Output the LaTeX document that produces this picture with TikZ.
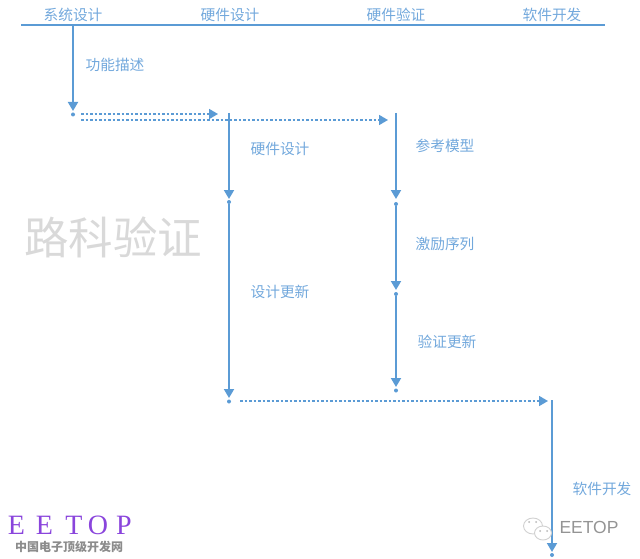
\documentclass[tikz,border=0pt]{standalone}
\usepackage{fontspec}
\setmainfont{Noto Sans CJK SC}
\newfontfamily\latinserif{Liberation Serif}
\newfontfamily\latinsans{Liberation Sans}
\usetikzlibrary{arrows.meta}
\definecolor{linec}{HTML}{5B9BD5}
\definecolor{labelc}{HTML}{72A8DC}
\definecolor{logoc}{HTML}{8A45DC}
\tikzset{
  x=1pt,y=-1pt,
  lab/.style={inner sep=0pt,text=labelc,font=\fontsize{14.7}{14.7}\selectfont},
  sol/.style={draw=linec,line width=1.9pt,-{Triangle[length=9pt,width=10pt]}},
  dsh/.style={draw=linec,line width=1.7pt,dash pattern=on 2.7pt off 1.8pt,-{Triangle[length=9pt,width=10pt]}},
  enddot/.style={circle,fill=linec,inner sep=0pt,minimum size=4pt},
}
\begin{document}
\begin{tikzpicture}
\useasboundingbox (0,0) rectangle (640,559);
% header
\coordinate (hl) at (21,25);
\coordinate (hr) at (605,25);
\draw[linec,line width=1.9pt] (hl) -- (hr);
\node[lab] (h1) at (73,15) {系统设计};
\node[lab] (h2) at (230,15) {硬件设计};
\node[lab] (h3) at (396,15) {硬件验证};
\node[lab] (h4) at (552,15) {软件开发};
% column 1
\coordinate (a0) at (73,25);
\node[enddot] (a1) at (73,114.5) {};
\draw[sol] (a0) -- (73,111) coordinate (a1t);
\node[lab] (l1) at (115,65) {功能描述};
% dashed from first stage
\coordinate (d1s) at (81,114);
\coordinate (d1e) at (218,114);
\draw[dsh] (d1s) -- (d1e);
\coordinate (d2s) at (81,120);
\coordinate (d2e) at (388,120);
\draw[dsh] (d2s) -- (d2e);
% column 2
\coordinate (b0) at (229,113);
\node[enddot] (b1) at (229,202) {};
\node[enddot] (b2) at (229,401.5) {};
\draw[sol] (b0) -- (229,199);
\draw[sol] (b1) -- (229,398);
\node[lab] (l2) at (280,149) {硬件设计};
\node[lab] (l3) at (280,292) {设计更新};
% column 3
\coordinate (c0) at (396,113);
\node[enddot] (c1) at (396,204) {};
\node[enddot] (c2) at (396,294) {};
\node[enddot] (c3) at (396,390.5) {};
\draw[sol] (c0) -- (396,199);
\draw[sol] (c1) -- (396,290);
\draw[sol] (c2) -- (396,387);
\node[lab] (l4) at (445,146) {参考模型};
\node[lab] (l5) at (445,244) {激励序列};
\node[lab] (l6) at (447,342) {验证更新};
% to software
\coordinate (d3s) at (240,401);
\coordinate (d3e) at (548,401);
\draw[dsh] (d3s) -- (d3e);
% column 4
\coordinate (e0) at (552,400);
\node[enddot] (e1) at (552,555) {};
\draw[sol] (e0) -- (552,552);
\node[lab] (l7) at (602,489) {软件开发};
% watermark
\node[inner sep=0pt,text=black!15,font=\fontsize{44.5}{44.5}\selectfont] (wm) at (113,237) {路科验证};
% logo
\foreach \n/\X/\c in {p1/16.5/E,p2/44.5/E,p3/74/T,p4/98/O,p5/124/P}{
  \node[inner sep=0pt,text=logoc,font=\latinserif\fontsize{28}{28}\selectfont] (\n) at (\X,525.5) {\c};
}
\node[inner sep=0pt,text=black!45,font=\fontsize{12}{12}\selectfont\bfseries] (cn) at (69,547) {中国电子顶级开发网};
% wechat mark
\fill[white,draw=black!18,line width=0.9pt] (533,526) ellipse (9.5 and 8);
\fill[white,draw=black!18,line width=0.9pt] (543,533) ellipse (8.5 and 7);
\foreach \dx in {529,536}{\fill[black!28] (\dx,522) circle (1);}
\foreach \dx in {540,547}{\fill[black!28] (\dx,531) circle (1);}
\node[inner sep=0pt,text=black!42,font=\latinsans\fontsize{17.5}{17.5}\selectfont] (wx) at (589,527) {EETOP};
\end{tikzpicture}
\end{document}
